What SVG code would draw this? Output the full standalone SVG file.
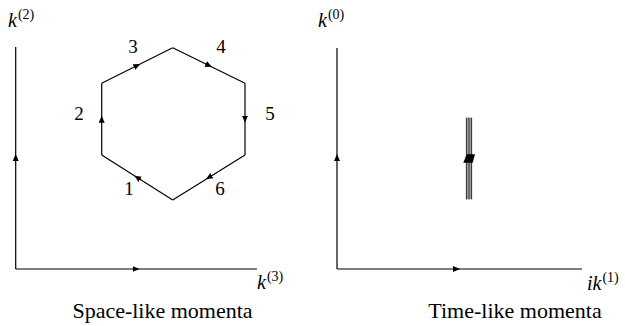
<svg xmlns="http://www.w3.org/2000/svg" width="625" height="326" viewBox="0 0 625 326">
<defs>
<marker id="ar" markerUnits="userSpaceOnUse" markerWidth="8" markerHeight="7" refX="3.5" refY="3" orient="auto" viewBox="0 0 8 7">
<path d="M0,0 L7,3 L0,6 z" fill="#000"/>
</marker>
</defs>
<text x="133" y="53" font-size="19" text-anchor="middle" font-family="Liberation Serif">3</text>
<text x="221" y="53" font-size="19" text-anchor="middle" font-family="Liberation Serif">4</text>
<text x="79" y="120" font-size="19" text-anchor="middle" font-family="Liberation Serif">2</text>
<text x="270" y="120" font-size="19" text-anchor="middle" font-family="Liberation Serif">5</text>
<text x="129" y="195" font-size="19" text-anchor="middle" font-family="Liberation Serif">1</text>
<text x="220" y="195" font-size="19" text-anchor="middle" font-family="Liberation Serif">6</text>
<text x="8" y="27" font-size="20" font-style="italic" font-family="Liberation Serif">k<tspan font-size="14" font-style="normal" dx="1" dy="-8">(2)</tspan></text>
<text x="257" y="289" font-size="20" font-style="italic" font-family="Liberation Serif">k<tspan font-size="14" font-style="normal" dx="1" dy="-8">(3)</tspan></text>
<text x="318" y="27" font-size="20" font-style="italic" font-family="Liberation Serif">k<tspan font-size="14" font-style="normal" dx="1" dy="-8">(0)</tspan></text>
<text x="587" y="290" font-size="20" font-style="italic" font-family="Liberation Serif">ik<tspan font-size="14" font-style="normal" dx="1" dy="-8">(1)</tspan></text>
<text x="162.5" y="318" font-size="22" text-anchor="middle" font-family="Liberation Serif">Space-like momenta</text>
<text x="515" y="318" font-size="22" text-anchor="middle" font-family="Liberation Serif">Time-like momenta</text>
<g id="connectors" fill="none" stroke="#000" stroke-width="1.2">
<path d="M15.7,269 L15.7,157.5 L15.7,47" marker-mid="url(#ar)"/>
<path d="M15.7,269 L136,269 L257,269" marker-mid="url(#ar)"/>
<path d="M337,269 L337,157.5 L337,48" marker-mid="url(#ar)"/>
<path d="M337,269 L456.5,269 L582,269" marker-mid="url(#ar)"/>
</g>
<g id="hexagon" fill="none" stroke="#000" stroke-width="1.2">
<path d="M172.7,200 L137.2,177.5 L101.7,155" marker-mid="url(#ar)"/>
<path d="M101.7,155 L101.7,119.2 L101.7,83.3" marker-mid="url(#ar)"/>
<path d="M101.7,83.3 L137.2,65.5 L172.7,47.7" marker-mid="url(#ar)"/>
<path d="M172.7,47.7 L208.9,65.5 L245,83.3" marker-mid="url(#ar)"/>
<path d="M245,83.3 L245,119.2 L245,155" marker-mid="url(#ar)"/>
<path d="M245,155 L208.9,177.5 L172.7,200" marker-mid="url(#ar)"/>
</g>
<g id="cut">
<rect x="465.7" y="117.7" width="6.6" height="81.6" fill="#aaa"/>
<line x1="466.6" y1="117.7" x2="466.6" y2="199.3" stroke="#222" stroke-width="0.9"/>
<line x1="469" y1="117.7" x2="469" y2="199.3" stroke="#222" stroke-width="0.9"/>
<line x1="471.4" y1="117.7" x2="471.4" y2="199.3" stroke="#222" stroke-width="0.9"/>
<polygon points="466.7,154.3 475,154.3 472.7,162.7 463.3,162.7" fill="#000"/>
</g>
</svg>
